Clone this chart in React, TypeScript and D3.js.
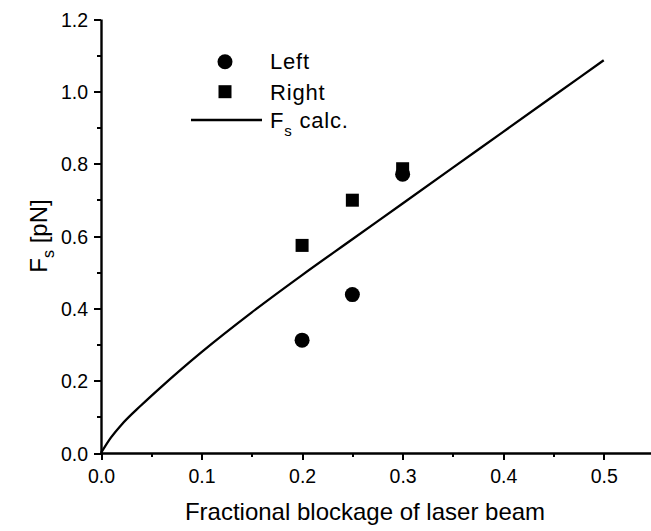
import React, { useEffect, useRef } from 'react';
import * as d3 from 'd3';

// measured points (fractional blockage -> force in pN)
const blockage = [0.2, 0.25, 0.3];
const leftForce = [0.312, 0.438, 0.771];
const rightForce = [0.574, 0.699, 0.786];

// calculated curve
const calcBlockage = [0, 0.01, 0.02, 0.04, 0.06, 0.08, 0.1, 0.15, 0.2, 0.25, 0.3, 0.35, 0.4, 0.45, 0.5];
const calcForce = [0, 0.043, 0.077, 0.132, 0.183, 0.232, 0.279, 0.389, 0.492, 0.591, 0.69, 0.789, 0.888, 0.987, 1.086];

const xTicks = [0, 0.1, 0.2, 0.3, 0.4, 0.5];
const xMinorTicks = [0.05, 0.15, 0.25, 0.35, 0.45];
const yTicks = [0, 0.2, 0.4, 0.6, 0.8, 1.0, 1.2];
const yMinorTicks = [0.1, 0.3, 0.5, 0.7, 0.9, 1.1];

const legendItems = ['Left', 'Right'];

const W = 651;
const H = 531;
const FONT = '"Liberation Sans", Arial, Helvetica, sans-serif';

const App = () => {
    const ref = useRef<SVGSVGElement>(null);

    useEffect(() => {
        const svg = d3.select(ref.current);
        svg.selectAll('*').remove();

        const x = d3.scaleLinear().domain([0, 0.55]).range([101, 654]);
        const y = d3.scaleLinear().domain([0, 1.2]).range([453, 19]);

        // minor ticks
        svg.append('g').attr('transform', `translate(0,${y(0)})`)
            .call(d3.axisBottom(x).tickValues(xMinorTicks).tickSize(4).tickSizeOuter(0).tickFormat(() => ''))
            .call(g => g.select('.domain').remove());
        svg.append('g').attr('transform', `translate(${x(0)},0)`)
            .call(d3.axisLeft(y).tickValues(yMinorTicks).tickSize(4).tickSizeOuter(0).tickFormat(() => ''))
            .call(g => g.select('.domain').remove());

        // major ticks + axis lines
        const xMajor = svg.append('g').attr('transform', `translate(0,${y(0)})`)
            .call(d3.axisBottom(x).tickValues(xTicks).tickSize(7).tickSizeOuter(0).tickFormat(d3.format('.1f')));
        const yMajor = svg.append('g').attr('transform', `translate(${x(0)},0)`)
            .call(d3.axisLeft(y).tickValues(yTicks).tickSize(7).tickSizeOuter(0).tickFormat(d3.format('.1f')));

        svg.selectAll('.domain').attr('stroke', '#000').attr('stroke-width', 2.4);
        svg.selectAll('.tick line')
            .attr('stroke', '#000')
            .attr('stroke-width', 2)
            .attr('shape-rendering', 'crispEdges');
        svg.selectAll('.tick text')
            .attr('fill', '#000')
            .style('font-family', FONT)
            .style('font-size', '19.5px');
        xMajor.selectAll('.tick text').attr('y', 30).attr('dy', 0);
        yMajor.selectAll('.tick text').attr('x', -13).attr('dy', '0.36em');

        // axis titles
        svg.append('text')
            .attr('x', 365)
            .attr('y', 520)
            .attr('text-anchor', 'middle')
            .style('font-family', FONT)
            .style('font-size', '24px')
            .text('Fractional blockage of laser beam');

        const yTitle = svg.append('text')
            .attr('transform', `translate(47,${(y(0) + y(1.2)) / 2}) rotate(-90)`)
            .attr('text-anchor', 'middle')
            .style('font-family', FONT)
            .style('font-size', '24px');
        yTitle.append('tspan').text('F');
        yTitle.append('tspan').attr('dy', 7).style('font-size', '16px').text('s');
        yTitle.append('tspan').attr('dy', -7).text(' [pN]');

        // calculated curve
        const line = d3.line<number>()
            .x((_, i) => x(calcBlockage[i]))
            .y(d => y(d))
            .curve(d3.curveMonotoneX);

        svg.append('path')
            .datum(calcForce)
            .attr('fill', 'none')
            .attr('stroke', '#000')
            .attr('stroke-width', 2.3)
            .attr('d', line);

        // right points (squares)
        const sq = 13;
        svg.selectAll('.sq')
            .data(rightForce)
            .enter()
            .append('rect')
            .attr('x', (_, i) => x(blockage[i]) - sq / 2)
            .attr('y', d => y(d) - sq / 2)
            .attr('width', sq)
            .attr('height', sq)
            .attr('fill', '#000');

        // left points (circles)
        svg.selectAll('.dot')
            .data(leftForce)
            .enter()
            .append('circle')
            .attr('cx', (_, i) => x(blockage[i]))
            .attr('cy', d => y(d))
            .attr('r', 7.5)
            .attr('fill', '#000');

        // legend
        const legend = svg.append('g')
            .style('font-family', FONT)
            .style('font-size', '22px')
            .style('letter-spacing', '0.8px');
        legend.append('circle').attr('cx', 225).attr('cy', 61.7).attr('r', 7.5).attr('fill', '#000');
        legend.append('rect').attr('x', 225 - sq / 2).attr('y', 91.7 - sq / 2).attr('width', sq).attr('height', sq).attr('fill', '#000');
        legend.append('line').attr('x1', 191).attr('x2', 262).attr('y1', 120).attr('y2', 120).attr('stroke', '#000').attr('stroke-width', 2.3);
        legendItems.forEach((t, i) => {
            legend.append('text').attr('x', 270).attr('y', 69 + i * 31).text(t);
        });
        const calc = legend.append('text').attr('x', 270).attr('y', 128);
        calc.append('tspan').text('F');
        calc.append('tspan').attr('dy', 8).style('font-size', '15px').text('s');
        calc.append('tspan').attr('dy', -8).text(' calc.');
    }, []);

    return (
        <svg
            ref={ref}
            width={W}
            height={H}
            style={{ position: 'absolute', left: 0, top: 0, background: '#fff' }}
        ></svg>
    );
};

export default App;
